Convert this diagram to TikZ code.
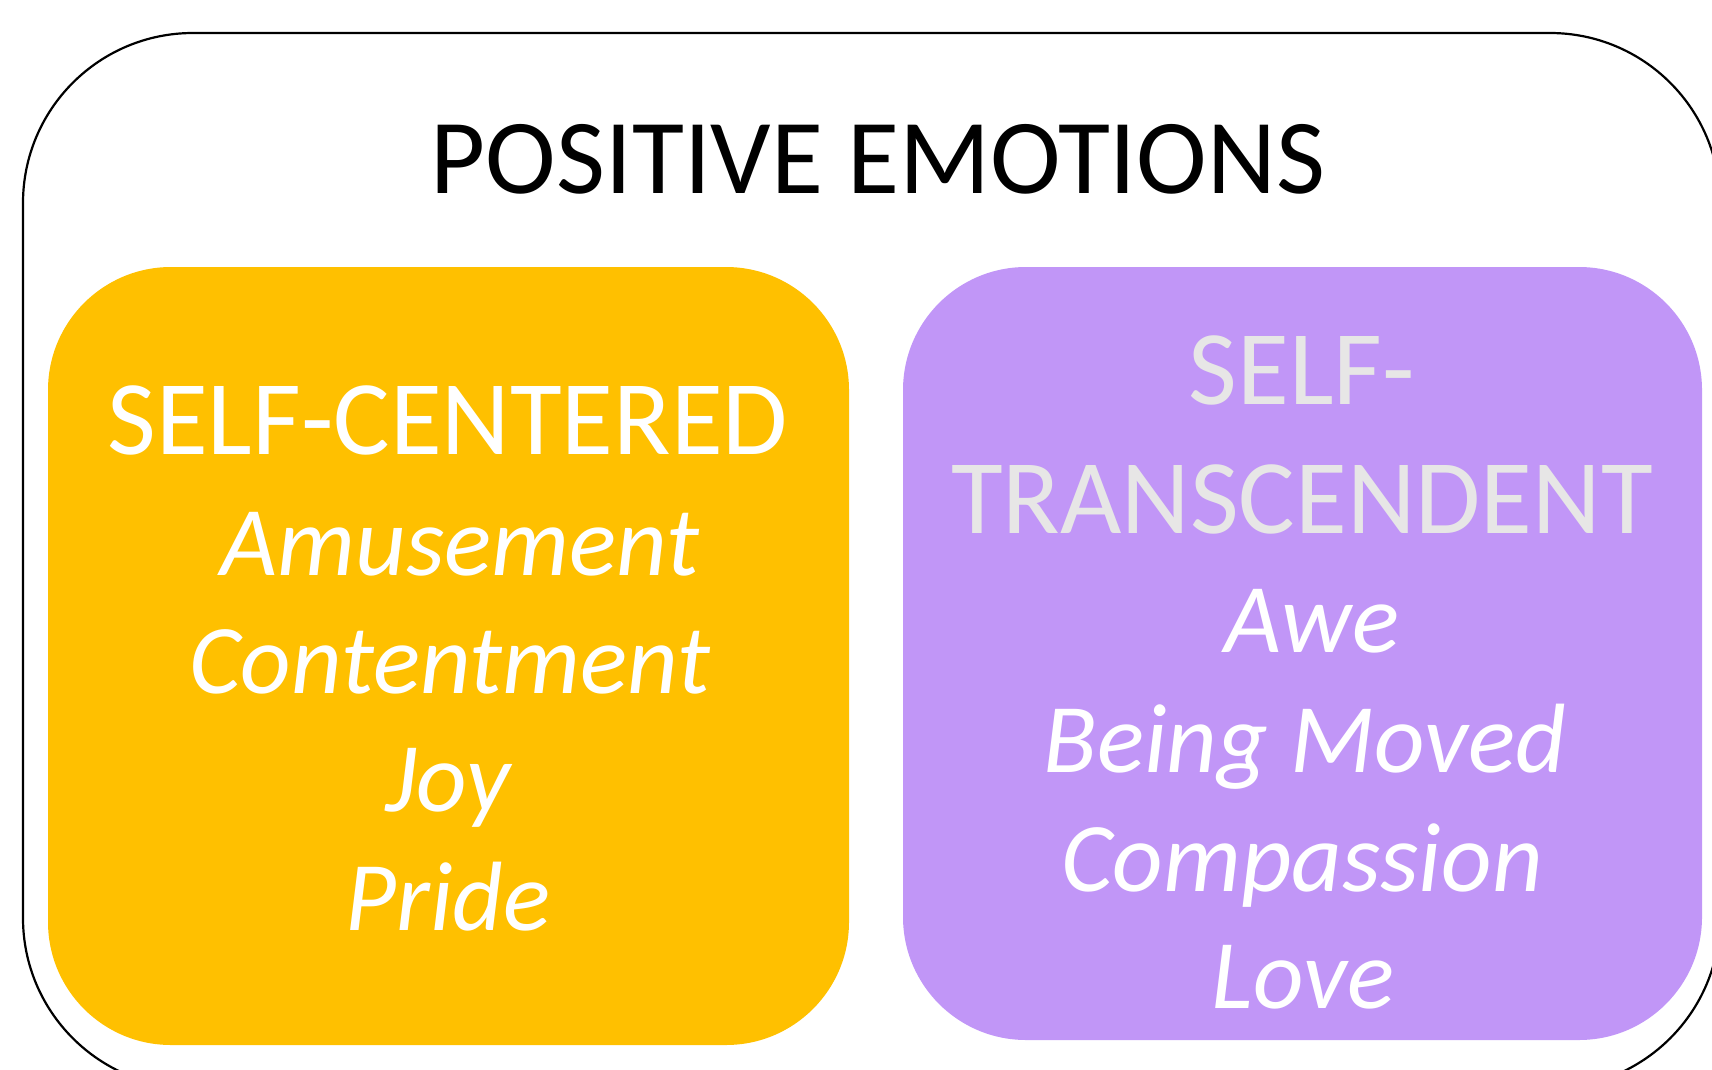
\documentclass[tikz,border=0pt]{standalone}
\usepackage{fontspec}
\setmainfont{Carlito}
\definecolor{gold}{HTML}{FFC000}
\definecolor{lilac}{HTML}{C196F7}
\definecolor{lightgray}{HTML}{E7E6E6}
\begin{document}
\begin{tikzpicture}[x=1pt,y=-1pt,
  titletext/.style={anchor=base, inner sep=0pt, font=\fontsize{106.5}{120}\selectfont, text=black},
  headtext/.style={anchor=base, inner sep=0pt, font=\fontsize{106}{120}\selectfont},
  itemtext/.style={anchor=base, inner sep=0pt, font=\fontsize{98.5}{118}\selectfont\itshape, text=white},
  panel/.style={rounded corners=123pt}]
\useasboundingbox (0,0) rectangle (1712,1070);
\clip (0,0) rectangle (1712,1070);
% outer frame
\draw[line width=2.2pt, rounded corners=170pt] (23,33) rectangle (1720,1088);
% panels
\fill[gold, panel] (48,267) rectangle (849,1045);
\fill[lilac, panel] (903,267) rectangle (1702,1040);
% title
\node[titletext] (title) at (878,193) {POSITIVE EMOTIONS};
% left panel
\node[headtext, text=white] (selfc) at (448,454) {SELF-CENTERED};
\node[itemtext] (amuse) at (460,575) {Amusement};
\node[itemtext] (content) at (450,693) {Contentment};
\node[itemtext] (joy) at (448,811) {Joy};
\node[itemtext] (pride) at (448,930) {Pride};
% right panel
\node[headtext, text=lightgray] (selft1) at (1302,404) {SELF-};
\node[headtext, text=lightgray] (selft2) at (1302,533) {TRANSCENDENT};
\node[itemtext] (awe) at (1312,652) {Awe};
\node[itemtext] (moved) at (1305,772) {Being Moved};
\node[itemtext] (compassion) at (1302,891) {Compassion};
\node[itemtext] (love) at (1303,1008) {Love};
\end{tikzpicture}
\end{document}
